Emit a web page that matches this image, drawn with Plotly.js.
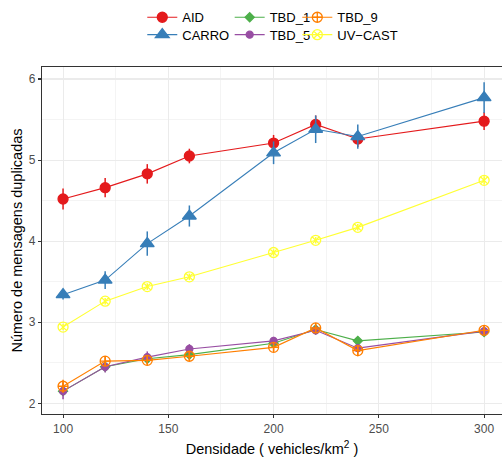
<!DOCTYPE html>
<html>
<head>
<meta charset="utf-8">
<script src="https://cdn.plot.ly/plotly-3.0.1.min.js"></script>
<style>html,body{margin:0;padding:0;background:#fff}#chart{width:502px;height:457px}</style>
</head>
<body>
<div id="chart"></div>
<script>
var densidade = [100, 120, 140, 160, 200, 220, 240, 300];

var aid      = [4.52, 4.66, 4.83, 5.05, 5.21, 5.44, 5.26, 5.48];
var aidErr   = [0.13, 0.12, 0.12, 0.09, 0.10, 0.11, 0.10, 0.11];
var carro    = [3.34, 3.52, 3.97, 4.31, 5.09, 5.38, 5.29, 5.77];
var carroErr = [0.06, 0.11, 0.15, 0.13, 0.14, 0.17, 0.15, 0.19];
var tbd1     = [2.15, 2.45, 2.55, 2.60, 2.74, 2.91, 2.77, 2.88];
var tbd1Err  = [0.06, 0.05, 0.05, 0.05, 0.05, 0.05, 0.05, 0.05];
var tbd5     = [2.15, 2.45, 2.57, 2.67, 2.77, 2.90, 2.68, 2.89];
var tbd5Err  = [0.10, 0.07, 0.07, 0.06, 0.05, 0.05, 0.05, 0.06];
var tbd9     = [2.21, 2.52, 2.53, 2.58, 2.69, 2.93, 2.65, 2.90];
var tbd9Err  = [0.08, 0.05, 0.05, 0.05, 0.05, 0.05, 0.07, 0.05];
var uvcast   = [2.94, 3.26, 3.44, 3.56, 3.86, 4.01, 4.17, 4.75];
var uvcastErr= [0.04, 0.04, 0.04, 0.04, 0.04, 0.04, 0.04, 0.05];

var xTicks = [100, 150, 200, 250, 300];
var yTicks = [2, 3, 4, 5, 6];

function tr(name, y, err, color, symbol, size, legend) {
  return {
    type: 'scatter', mode: 'lines+markers', name: name, x: densidade, y: y,
    line: {color: color, width: 1.1},
    marker: {color: color, symbol: symbol, size: size, line: {color: color, width: 1.3}},
    error_y: {type: 'data', array: err, visible: true, color: color, thickness: 1.5, width: 0},
    legend: legend
  };
}

var data = [
  tr('AID', aid, aidErr, '#E41A1C', 'circle', 10, 'legend'),
  tr('CARRO', carro, carroErr, '#377EB8', 'triangle-up', 12, 'legend2'),
  tr('TBD_1', tbd1, tbd1Err, '#4DAF4A', 'diamond', 7, 'legend3'),
  tr('TBD_5', tbd5, tbd5Err, '#984EA3', 'circle', 7, 'legend4'),
  tr('TBD_9', tbd9, tbd9Err, '#FF7F00', 'circle-cross-open', 10, 'legend5'),
  tr('UV\u2212CAST', uvcast, uvcastErr, '#FFFF33', 'circle-x-open', 10, 'legend6')
];

function leg(x, y) {
  return {orientation: 'v', yanchor: 'middle', y: y, xanchor: 'left', x: x,
    font: {family: 'Liberation Sans, Arial, sans-serif', size: 13, color: '#000'},
    bgcolor: 'rgba(0,0,0,0)', tracegroupgap: 0, itemwidth: 30};
}
var row1 = 1.1432, row2 = 1.0931;

var layout = {
  width: 502, height: 457,
  margin: {l: 42, r: 0, t: 67, b: 43},
  paper_bgcolor: '#fff', plot_bgcolor: '#fff',
  font: {family: 'Liberation Sans, Arial, sans-serif'},
  showlegend: true,
  legend: leg(0.218, row1),
  legend2: leg(0.218, row2),
  legend3: leg(0.408, row1),
  legend4: leg(0.408, row2),
  legend5: leg(0.555, row1),
  legend6: leg(0.555, row2),
  xaxis: {
    range: [90, 308.5], tickvals: xTicks, ticktext: xTicks.map(String),
    showgrid: true, gridcolor: '#ebebeb', gridwidth: 1.1,
    minor: {dtick: 25, tick0: 0, showgrid: true, gridcolor: '#ebebeb', gridwidth: 0.55},
    zeroline: false, showline: true, linecolor: '#333333', linewidth: 1.1, mirror: true,
    ticks: 'outside', ticklen: 3, tickcolor: '#333333', tickwidth: 1.1,
    tickfont: {size: 12, color: '#4d4d4d'},
    title: {text: 'Densidade ( vehicles/km<sup>2</sup> )', font: {size: 14.5, color: '#000'}, standoff: 10}
  },
  yaxis: {
    range: [1.868, 6.148], tickvals: yTicks, ticktext: yTicks.map(String),
    showgrid: true, gridcolor: '#ebebeb', gridwidth: 1.1,
    minor: {dtick: 0.5, tick0: 0, showgrid: true, gridcolor: '#ebebeb', gridwidth: 0.55},
    zeroline: false, showline: true, linecolor: '#333333', linewidth: 1.1,
    ticks: 'outside', ticklen: 3, tickcolor: '#333333', tickwidth: 1.1,
    tickfont: {size: 12, color: '#4d4d4d'},
    title: {text: 'Número de mensagens duplicadas', font: {size: 14.5, color: '#000'}, standoff: 2}
  }
};

Plotly.newPlot('chart', data, layout, {displayModeBar: false, staticPlot: true});
</script>
</body>
</html>
